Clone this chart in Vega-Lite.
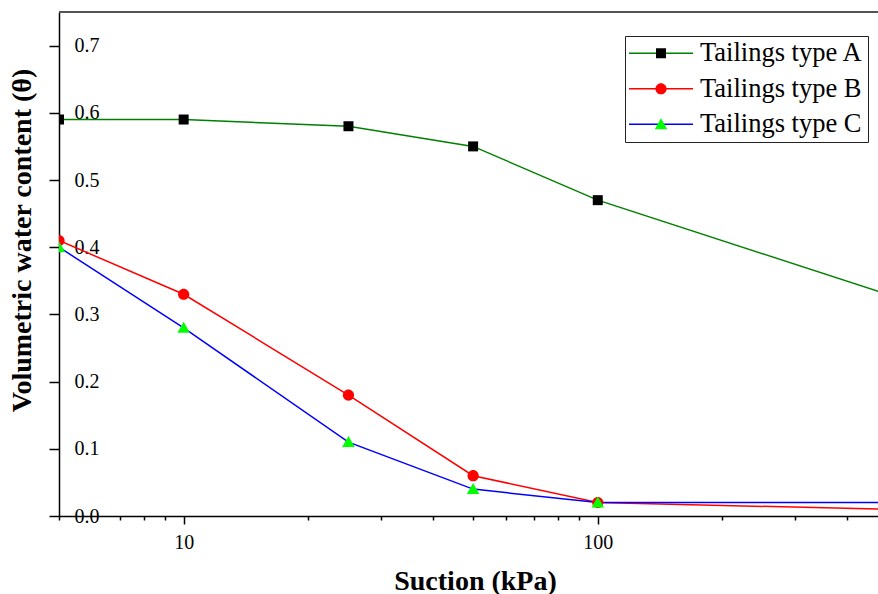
{
  "$schema": "https://vega.github.io/schema/vega-lite/v6.json",
  "width": 819,
  "height": 504,
  "autosize": {"type": "none"},
  "padding": {"left": 59, "top": 12, "right": 0, "bottom": 78},
  "background": "white",
  "config": {"view": {"stroke": null}, "font": "Liberation Serif"},
  "data": {
    "values": [
      {"series": "Tailings type A", "suction": 5, "theta": 0.59},
      {"series": "Tailings type A", "suction": 10, "theta": 0.59},
      {"series": "Tailings type A", "suction": 25, "theta": 0.58},
      {"series": "Tailings type A", "suction": 50, "theta": 0.55},
      {"series": "Tailings type A", "suction": 100, "theta": 0.47},
      {"series": "Tailings type A", "suction": 500, "theta": 0.33},
      {"series": "Tailings type B", "suction": 5, "theta": 0.41},
      {"series": "Tailings type B", "suction": 10, "theta": 0.33},
      {"series": "Tailings type B", "suction": 25, "theta": 0.18},
      {"series": "Tailings type B", "suction": 50, "theta": 0.06},
      {"series": "Tailings type B", "suction": 100, "theta": 0.02},
      {"series": "Tailings type B", "suction": 500, "theta": 0.01},
      {"series": "Tailings type C", "suction": 5, "theta": 0.40},
      {"series": "Tailings type C", "suction": 10, "theta": 0.28},
      {"series": "Tailings type C", "suction": 25, "theta": 0.11},
      {"series": "Tailings type C", "suction": 50, "theta": 0.04},
      {"series": "Tailings type C", "suction": 100, "theta": 0.02},
      {"series": "Tailings type C", "suction": 500, "theta": 0.02}
    ]
  },
  "layer": [
    {
      "mark": {"type": "rule", "color": "#555555", "strokeWidth": 1},
      "encoding": {"y": {"datum": 0.75, "type": "quantitative"}}
    },
    {
      "mark": {"type": "line", "strokeWidth": 1.5, "clip": true},
      "encoding": {
        "x": {
          "field": "suction",
          "type": "quantitative",
          "scale": {"type": "log", "domain": [5, 475], "nice": false},
          "axis": {
            "values": [5, 7, 8, 9, 10, 20, 30, 40, 50, 60, 70, 80, 90, 100, 200, 300, 400],
            "labelExpr": "(datum.value == 10 || datum.value == 100) ? format(datum.value, 'd') : ''",
            "tickSize": {"condition": {"test": "datum.value == 10 || datum.value == 100", "value": 8}, "value": 4},
            "tickColor": "black",
            "tickWidth": 1.5,
            "domainColor": "black",
            "domainWidth": 1.5,
            "grid": false,
            "labelFont": "Liberation Serif",
            "labelFontSize": 20,
            "labelColor": "black",
            "labelPadding": 8,
            "labelBaseline": "top",
            "labelFlush": false,
            "labelOverlap": false,
            "title": "Suction (kPa)",
            "titleFont": "Liberation Serif",
            "titleFontSize": 28,
            "titleFontWeight": "bold",
            "titleColor": "black",
            "titleX": 416,
            "titleY": 73,
            "titleAlign": "center",
            "titleBaseline": "alphabetic"
          }
        },
        "y": {
          "field": "theta",
          "type": "quantitative",
          "scale": {"domain": [0, 0.75], "nice": false, "zero": true},
          "axis": {
            "values": [0, 0.05, 0.1, 0.15, 0.2, 0.25, 0.3, 0.35, 0.4, 0.45, 0.5, 0.55, 0.6, 0.65, 0.7, 0.75],
            "labelExpr": "(round(datum.value * 100) % 10 == 0 && datum.value < 0.72) ? format(datum.value, '.1f') : ''",
            "tickSize": {"condition": {"test": "round(datum.value * 100) % 10 == 0", "value": 10}, "value": 6},
            "tickColor": "black",
            "tickWidth": 1.5,
            "domainColor": "black",
            "domainWidth": 1.5,
            "grid": false,
            "labelFont": "Liberation Serif",
            "labelFontSize": 20,
            "labelColor": "black",
            "labelAlign": "left",
            "labelBaseline": "middle",
            "labelPadding": -25,
            "labelFlush": false,
            "labelOverlap": false,
            "title": "Volumetric water content (θ)",
            "titleFont": "Liberation Serif",
            "titleFontSize": 28,
            "titleFontWeight": "bold",
            "titleColor": "black",
            "titleAngle": 270,
            "titleX": -29,
            "titleY": 228,
            "titleAlign": "center",
            "titleBaseline": "alphabetic"
          }
        },
        "stroke": {
          "field": "series",
          "type": "nominal",
          "scale": {
            "domain": ["Tailings type A", "Tailings type B", "Tailings type C"],
            "range": ["#008000", "#ff0000", "#0000ff"]
          },
          "legend": {
            "orient": "none",
            "legendX": 566,
            "legendY": 24,
            "title": null,
            "symbolType": "M-3.2,0H3.2",
            "symbolSize": 400,
            "symbolStrokeWidth": 1.5,
            "symbolOffset": 18.75,
            "labelFont": "Liberation Serif",
            "labelFontSize": 26.5,
            "labelColor": "black",
            "labelOffset": 25.75,
            "labelLimit": 400,
            "rowPadding": 8.5,
            "padding": 4,
            "strokeColor": "#222222",
            "fillColor": "white",
            "zindex": 0
          }
        }
      }
    },
    {
      "mark": {"type": "point", "filled": true, "size": 400, "opacity": 1, "clip": true},
      "encoding": {
        "x": {"field": "suction", "type": "quantitative"},
        "y": {"field": "theta", "type": "quantitative"},
        "fill": {
          "field": "series",
          "type": "nominal",
          "scale": {"range": ["#000000", "#ff0000", "#00ff00"]},
          "legend": {
            "orient": "none",
            "legendX": 566,
            "legendY": 24,
            "title": null,
            "symbolSize": 400,
            "symbolStrokeWidth": 1.5,
            "symbolOffset": 18.75,
            "symbolOpacity": 1,
            "labelFont": "Liberation Serif",
            "labelFontSize": 26.5,
            "labelColor": "transparent",
            "labelOffset": 25.75,
            "labelLimit": 400,
            "rowPadding": 8.5,
            "padding": 4,
            "zindex": 1
          }
        },
        "shape": {
          "field": "series",
          "type": "nominal",
          "scale": {
            "range": [
              "M-0.5,-0.5H0.5V0.5H-0.5Z",
              "M-0.56,0A0.56,0.56,0,1,0,0.56,0A0.56,0.56,0,1,0,-0.56,0Z",
              "M0,-0.6L0.63,0.5L-0.63,0.5Z"
            ]
          },
          "legend": {
            "orient": "none",
            "legendX": 566,
            "legendY": 24,
            "title": null,
            "symbolSize": 400,
            "symbolStrokeWidth": 1.5,
            "symbolOffset": 18.75,
            "symbolOpacity": 1,
            "labelFont": "Liberation Serif",
            "labelFontSize": 26.5,
            "labelColor": "transparent",
            "labelOffset": 25.75,
            "labelLimit": 400,
            "rowPadding": 8.5,
            "padding": 4,
            "zindex": 1
          }
        }
      }
    }
  ]
}
